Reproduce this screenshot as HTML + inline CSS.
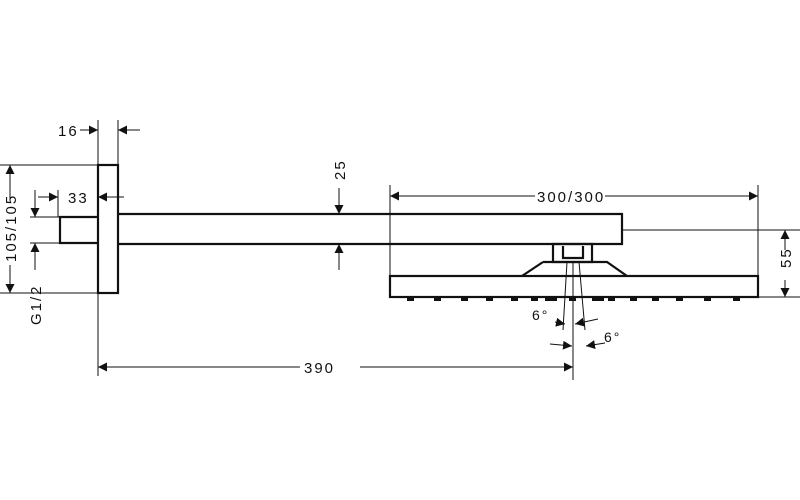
<!DOCTYPE html>
<html><head><style>body{margin:0;background:#fff}svg{display:block}</style></head><body>
<svg width="800" height="500" viewBox="0 0 800 500" xmlns="http://www.w3.org/2000/svg" font-family="Liberation Sans, sans-serif" font-size="15" fill="none" stroke="#111">
<defs><marker id="a" viewBox="0 0 10 10" refX="10" refY="5" markerWidth="9" markerHeight="9" orient="auto-start-reverse" markerUnits="userSpaceOnUse"><path d="M0,0 L10,5 L0,10z" fill="#111" stroke="none"/></marker></defs>
<g stroke-width="2.2">
<rect x="98" y="165" width="20" height="128"/>
<path d="M98,217 H60 V243 H98"/>
<path d="M118,214 H622 V244 H118"/>
<rect x="553" y="244" width="39" height="18"/>
<path d="M563,246 V258 H583 V246"/>
<path d="M543,262 H607 L627,276 M543,262 L522,276"/>
<rect x="390" y="276" width="368" height="21"/>
</g>
<g fill="#111" stroke="none">
<rect x="407" y="297" width="7" height="4"/><rect x="434" y="297" width="7" height="4"/><rect x="461" y="297" width="7" height="4"/><rect x="486" y="297" width="7" height="4"/><rect x="511" y="297" width="7" height="4"/><rect x="531" y="297" width="7" height="4"/><rect x="545" y="297" width="12" height="4"/><rect x="569" y="297" width="7" height="4"/><rect x="592" y="297" width="12" height="4"/><rect x="608" y="297" width="7" height="4"/><rect x="630" y="297" width="7" height="4"/><rect x="652" y="297" width="7" height="4"/><rect x="676" y="297" width="7" height="4"/><rect x="704" y="297" width="7" height="4"/><rect x="733" y="297" width="7" height="4"/>
</g>
<g stroke-width="1">
<path d="M98,120 V376 M118,120 V165 M0,165 H98 M0,293 H98 M58,190 V217 M30,217 H60 M30,243 H60"/>
<path d="M390,185 V278 M758,185 V276 M622,230 H800 M758,297 H800"/>
<path d="M573,262 V380 M567,262 L563,330 M579,262 L585,330"/>
<line x1="80" y1="130" x2="98" y2="130" marker-end="url(#a)"/>
<line x1="140" y1="130" x2="118" y2="130" marker-end="url(#a)"/>
<line x1="10" y1="200" x2="10" y2="165" marker-end="url(#a)"/>
<line x1="10" y1="265" x2="10" y2="293" marker-end="url(#a)"/>
<line x1="35" y1="190" x2="35" y2="217" marker-end="url(#a)"/>
<line x1="35" y1="270" x2="35" y2="243" marker-end="url(#a)"/>
<line x1="38" y1="197" x2="58" y2="197" marker-end="url(#a)"/>
<line x1="124" y1="197" x2="98" y2="197" marker-end="url(#a)"/>
<line x1="339" y1="188" x2="339" y2="214" marker-end="url(#a)"/>
<line x1="339" y1="270" x2="339" y2="244" marker-end="url(#a)"/>
<line x1="535" y1="196" x2="390" y2="196" marker-end="url(#a)"/>
<line x1="605" y1="196" x2="758" y2="196" marker-end="url(#a)"/>
<line x1="785" y1="250" x2="785" y2="230" marker-end="url(#a)"/>
<line x1="785" y1="280" x2="785" y2="297" marker-end="url(#a)"/>
<line x1="300" y1="367" x2="98" y2="367" marker-end="url(#a)"/>
<line x1="360" y1="367" x2="573" y2="367" marker-end="url(#a)"/>
<line x1="555" y1="322" x2="565" y2="324" marker-end="url(#a)"/>
<line x1="598" y1="319" x2="575" y2="324" marker-end="url(#a)"/>
<line x1="550" y1="344" x2="572" y2="346" marker-end="url(#a)"/>
<line x1="605" y1="343" x2="586" y2="346" marker-end="url(#a)"/>
</g>
<g fill="#111" stroke="none" letter-spacing="2">
<text x="58" y="136">16</text>
<text x="68" y="203">33</text>
<text x="537" y="202">300/300</text>
<text x="304" y="373">390</text>
<text x="532" y="320" font-size="14">6°</text>
<text x="604" y="342" font-size="14">6°</text>
<text transform="translate(345,180) rotate(-90)">25</text>
<text transform="translate(16,262) rotate(-90)">105/105</text>
<text transform="translate(41,325) rotate(-90)">G1/2</text>
<text transform="translate(791,268) rotate(-90)">55</text>
</g>
</svg>
</body></html>
